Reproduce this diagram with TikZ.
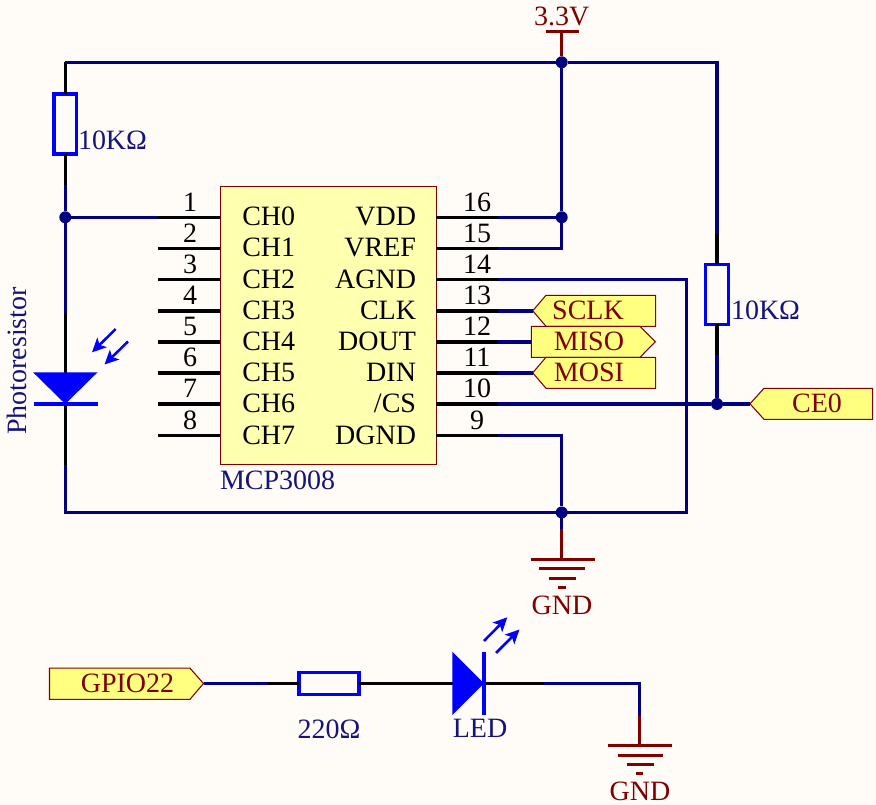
\documentclass[tikz,border=0pt]{standalone}
\usepackage{fontspec}
\setmainfont{Liberation Serif}
\usetikzlibrary{arrows.meta}
\definecolor{paper}{HTML}{FFFCF8}
\definecolor{wirenavy}{HTML}{000080}
\definecolor{partblue}{HTML}{0000FF}
\definecolor{darkred}{HTML}{800000}
\definecolor{chipfill}{HTML}{FFFFB0}
\definecolor{portfill}{HTML}{FFFF80}
\definecolor{labelnavy}{HTML}{14147A}
\tikzset{
  x=0.75pt,y=-0.75pt,
  txt/.style={inner sep=0pt,outer sep=0pt,font=\fontsize{21}{25}\selectfont},
  wire/.style={draw=wirenavy,line width=2.3pt,line join=miter},
  lead/.style={draw=black,line width=2.3pt},
  power/.style={draw=darkred,line width=2.3pt},
  junction/.style={circle,fill=wirenavy,inner sep=0pt,outer sep=0pt,minimum size=9pt},
  resistor/.style={draw=partblue,line width=2.3pt,fill=none,inner sep=0pt,outer sep=0pt},
  chipbox/.style={draw=darkred,line width=0.8pt,fill=chipfill,inner sep=0pt,outer sep=0pt},
  portshape/.style={draw=darkred,line width=0.8pt,fill=portfill},
  porttext/.style={txt,text=darkred,anchor=base},
  parttext/.style={txt,text=labelnavy},
  gndtext/.style={txt,text=darkred,anchor=base},
  partfill/.style={fill=partblue,draw=none},
  partline/.style={draw=partblue,line width=2.3pt},
  ray/.style={draw=partblue,line width=1.9pt,-{Stealth[length=10.5pt,width=10pt,inset=2.5pt]}},
}
\begin{document}
\begin{tikzpicture}
\useasboundingbox[fill=paper] (0,0) rectangle (876,805);

% chip
\node[chipbox,anchor=north west,minimum width=162pt,minimum height=208.5pt] (chip) at (220.3,186.3) {};
\node[parttext,anchor=base west] (chipname) at (220,490) {MCP3008};

% pins
\foreach \i/\y/\ln/\rn/\rnum in {
  1/217.3/CH0/VDD/16, 2/248.3/CH1/VREF/15, 3/279.6/CH2/AGND/14, 4/311/CH3/CLK/13,
  5/342/CH4/DOUT/12, 6/373/CH5/DIN/11, 7/404/CH6/{/CS}/10, 8/435.5/CH7/DGND/9}{
  \coordinate (pL\i) at (158,\y);
  \coordinate (iL\i) at (220.3,\y);
  \coordinate (iR\i) at (436.3,\y);
  \coordinate (pR\i) at (498,\y);
  \draw[lead] (pL\i) -- (iL\i);
  \draw[lead] (iR\i) -- (pR\i);
  \node[txt,anchor=base west] (nameL\i) at (242.3,\y+8.6) {\ln};
  \node[txt,anchor=base east] (nameR\i) at (416,\y+8.6) {\rn};
  \node[txt,anchor=base] (numL\i) at (190,\y-6) {\i};
  \node[txt,anchor=base] (numR\i) at (477,\y-6) {\rnum};
}

% junctions
\node[junction] (jTop) at (561.7,62.3) {};
\node[junction] (jVdd) at (561.7,217.3) {};
\node[junction] (jCh0) at (65.3,217.3) {};
\node[junction] (jCs) at (717,404) {};
\node[junction] (jGnd) at (561.7,512.5) {};

% corner and break coordinates
\coordinate (cTL) at (65.3,62.3);
\coordinate (cTR) at (717,62.3);
\coordinate (r1a) at (65.3,185);
\coordinate (d1a) at (65.3,313);
\coordinate (d1b) at (65.3,465);
\coordinate (cBL) at (65.3,512.5);
\coordinate (cBR) at (686.5,512.5);
\coordinate (c14) at (686.5,279.6);
\coordinate (c15) at (561.7,248.3);
\coordinate (c9) at (561.7,435.5);
\coordinate (r2a) at (717,234);
\coordinate (r2b) at (717,355);
\coordinate (g1a) at (561.7,529);

% resistors
\node[resistor,minimum width=17pt,minimum height=45pt] (R1) at (65.3,124) {};
\node[resistor,minimum width=17pt,minimum height=45pt] (R2) at (717,294.5) {};
\node[resistor,minimum width=45pt,minimum height=17pt] (R3) at (329,683.5) {};
\node[parttext,anchor=base west] (R1v) at (78,149.3) {10KΩ};
\node[parttext,anchor=base west] (R2v) at (731,319.3) {10KΩ};
\node[parttext,anchor=base] (R3v) at (329,739) {220Ω};

% black leads
\draw[lead] (cTL) -- (R1.north);
\draw[lead] (R1.south) -- (r1a);
\draw[lead] (d1a) -- (d1b);
\draw[lead] (r2a) -- (R2.north);
\draw[lead] (R2.south) -- (r2b);

% navy wires
\draw[wire] (cTL) -- (jTop) -- (cTR) -- (r2a);
\draw[wire] (r1a) -- (jCh0) -- (d1a);
\draw[wire] (jCh0) -- (pL1);
\draw[wire] (jTop) -- (jVdd) -- (c15) -- (pR2);
\draw[wire] (pR1) -- (jVdd);
\draw[wire] (pR3) -- (c14) -- (cBR) -- (cBL) -- (d1b);
\draw[wire] (pR8) -- (c9) -- (jGnd) -- (g1a);
\draw[wire] (r2b) -- (jCs);

% photoresistor
\coordinate (pdApex) at (65.3,404);
\path[partfill] (33,372.3) -- (97.5,372.3) -- (pdApex) -- cycle;
\draw[partline] (33.7,404) -- (97.7,404);
\draw[ray] (115.7,329) -- (92,352.3);
\draw[ray] (128,341.5) -- (104.5,364.5);
\node[parttext,rotate=90,anchor=base] (pdname) at (26.5,361) {Photoresistor};

% ports
\draw[portshape] (532.7,310.8) -- (546,295.3) -- (655.7,295.3) -- (655.7,326.3) -- (546,326.3) -- cycle;
\draw[portshape] (531.3,326.3) -- (640,326.3) -- (655.3,341.8) -- (640,357.3) -- (531.3,357.3) -- cycle;
\draw[portshape] (532.7,372.8) -- (546,357.3) -- (655.7,357.3) -- (655.7,388.3) -- (546,388.3) -- cycle;
\draw[portshape] (750,403.8) -- (764,388.3) -- (872.7,388.3) -- (872.7,419.3) -- (764,419.3) -- cycle;
\draw[portshape] (49.5,668.2) -- (190,668.2) -- (203.5,683.5) -- (190,699.3) -- (49.5,699.3) -- cycle;
\node[porttext] (sclk) at (588,320) {SCLK};
\node[porttext] (miso) at (589,351) {MISO};
\node[porttext] (mosi) at (589,382) {MOSI};
\node[porttext] (ce0) at (817,413) {CE0};
\node[porttext] (gpio) at (127.5,692.7) {GPIO22};
\coordinate (tSclk) at (532.7,311);
\coordinate (tMiso) at (531.3,342);
\coordinate (tMosi) at (532.7,373);
\coordinate (tCe) at (750,404);
\coordinate (tGpio) at (203.5,683.5);
\draw[wire] (pR4) -- (tSclk);
\draw[wire] (pR5) -- (tMiso);
\draw[wire] (pR6) -- (tMosi);
\draw[wire] (pR7) -- (jCs) -- (tCe);

% 3.3V
\coordinate (vBar) at (561.7,31.5);
\draw[power] (vBar) -- (jTop);
\draw[power] (545.5,31.5) -- (578.5,31.5);
\node[gndtext] (vlabel) at (561.7,26) {3.3V};

% ground 1
\coordinate (g1b) at (561.7,559.3);
\draw[power] (g1a) -- (g1b);
\draw[power] (530.5,559.3) -- (594.5,559.3);
\draw[power] (539.3,568.5) -- (584.7,568.5);
\draw[power] (548.5,578.5) -- (576,578.5);
\draw[power] (558,587.5) -- (566,587.5);
\node[gndtext] (gnd1) at (562,614.5) {GND};

% lower LED branch
\coordinate (l1) at (268,683.5);
\coordinate (l2) at (543.5,683.5);
\coordinate (l3) at (639.7,683.5);
\coordinate (l4) at (639.7,716);
\coordinate (g2b) at (639.7,745.5);
\draw[lead] (l1) -- (R3.west);
\draw[lead] (R3.east) -- (l2);
\draw[wire] (tGpio) -- (l1);
\draw[wire] (l2) -- (l3) -- (l4);
\draw[power] (l4) -- (g2b);
\draw[power] (607.7,745.5) -- (671.7,745.5);
\draw[power] (617.7,755.7) -- (662.7,755.7);
\draw[power] (626.7,764.7) -- (653.7,764.7);
\draw[power] (636,773.5) -- (643,773.5);
\node[gndtext] (gnd2) at (640,801) {GND};

% LED
\path[partfill] (452.3,651.7) -- (484,683.5) -- (452.3,715) -- cycle;
\draw[partline] (484,651.7) -- (484,715);
\draw[ray] (484,641) -- (507.3,617.3);
\draw[ray] (496,653) -- (519.5,629.5);
\node[parttext,anchor=base] (ledname) at (480,738) {LED};
\end{tikzpicture}
\end{document}
